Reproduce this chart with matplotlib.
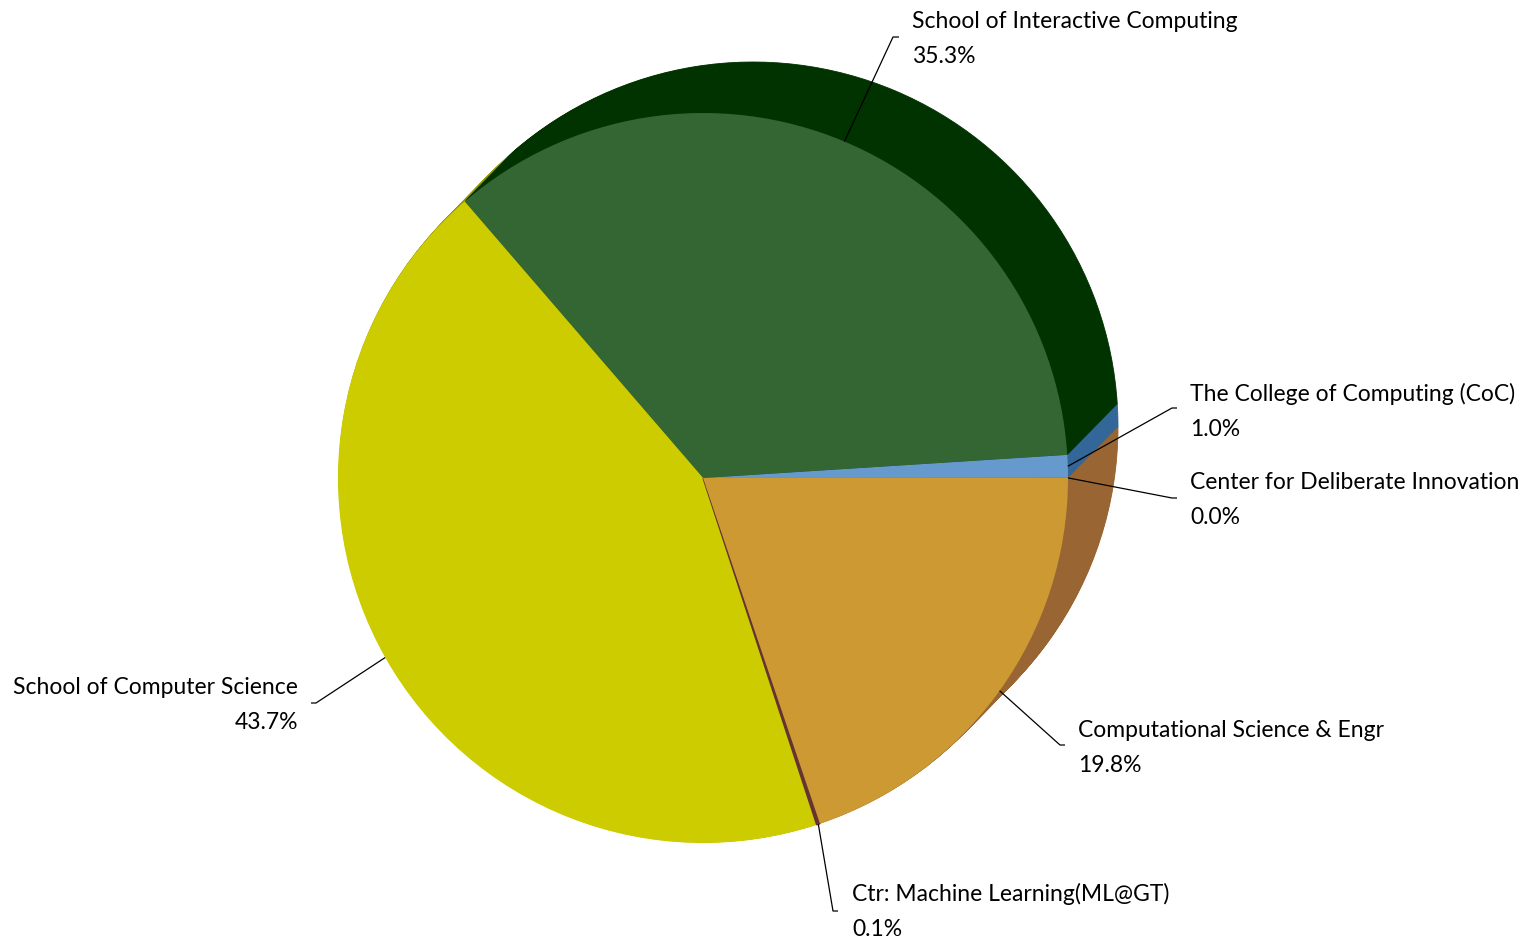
import numpy as np
import matplotlib.pyplot as plt

# data, in pie order (counter-clockwise from 3 o'clock)
labels = [
    "Center for Deliberate Innovation",
    "The College of Computing (CoC)",
    "School of Interactive Computing",
    "School of Computer Science",
    "Ctr: Machine Learning(ML@GT)",
    "Computational Science & Engr",
]
shares = [0.01, 1.0, 35.3, 43.7, 0.15, 19.8]
pct_labels = ["0.0%", "1.0%", "35.3%", "43.7%", "0.1%", "19.8%"]

face_colors = ["#7F7F7F", "#6699CC", "#336633", "#CCCC00", "#663333", "#CC9933"]
side_colors = ["#555555", "#336699", "#003300", "#999900", "#330000", "#996633"]

W, H = 1532, 941
CX, CY = 703, H - 478
R = 365
DEPTH = (50, 51)

# label layout in picture pixels: elbow of leader, tick direction, text x, baselines
label_layout = [
    ((1172, 498), 5, 1190, (489, 524), "left"),
    ((1172, 408), 5, 1190, (401, 436), "left"),
    ((893, 37), 6, 912, (28, 63), "left"),
    ((316, 703), -5, 298, (694, 729), "right"),
    ((833, 911), 5, 852, (901, 936), "left"),
    ((1060, 745), 5, 1078, (737, 772), "left"),
]

plt.rcParams["font.family"] = ["Lato", "DejaVu Sans"]

fig = plt.figure(figsize=(W / 100, H / 100), dpi=100)
ax = fig.add_axes([0, 0, 1, 1])

# extruded side of the pie: stacked copies from the back to the front
steps = 60
for k in range(steps, 0, -1):
    t = k / steps
    wedges, _ = ax.pie(shares, colors=side_colors, startangle=0, radius=R,
                       center=(CX + DEPTH[0] * t, CY + DEPTH[1] * t))
    for w in wedges:
        w.set_edgecolor(w.get_facecolor())
        w.set_linewidth(0.6)

# front face
wedges, _ = ax.pie(shares, colors=face_colors, startangle=0, radius=R,
                   center=(CX, CY))
wedges[4].set_edgecolor(face_colors[4])
wedges[4].set_linewidth(1.0)

for w, name, pct, lay in zip(wedges, labels, pct_labels, label_layout):
    (ex, ey), tick, tx, (b1, b2), ha = lay
    mid = np.deg2rad((w.theta1 + w.theta2) / 2)
    ax_, ay_ = CX + R * np.cos(mid), CY + R * np.sin(mid)
    ax.plot([ax_, ex, ex + tick], [ay_, H - ey, H - ey],
            color="black", linewidth=0.9, solid_capstyle="butt")
    ax.text(tx, H - b1, name, ha=ha, va="baseline", fontsize=16.5, color="black")
    ax.text(tx, H - b2, pct, ha=ha, va="baseline", fontsize=16.5, color="black")

ax.set_xlim(0, W)
ax.set_ylim(0, H)
ax.set_aspect("equal")
ax.axis("off")

fig.savefig("out.png", dpi=100, facecolor="white")
